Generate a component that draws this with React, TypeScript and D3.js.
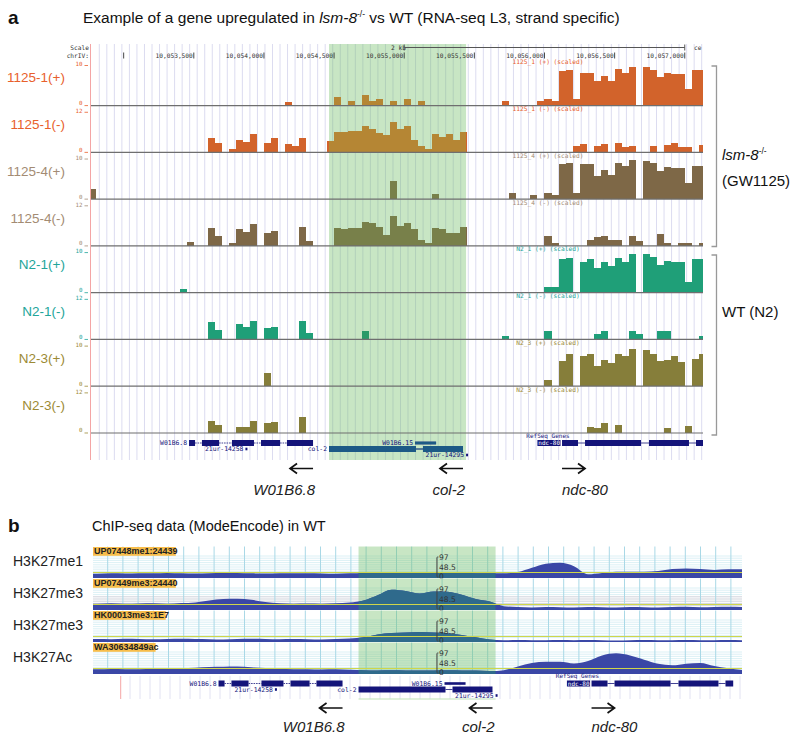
import React from "react";
import * as d3 from "d3";

// ---- panel a: RNA-seq coverage (50 bp bins) ----
const binStart = 10052750;
const binSize = 50;
const viewA: [number, number] = [10052760, 10057130];
const highlight: [number, number] = [10054464, 10055441];

const trackNames = ["1125-1(+)", "1125-1(-)", "1125-4(+)", "1125-4(-)", "N2-1(+)", "N2-1(-)", "N2-3(+)", "N2-3(-)"];
const trackTitles = [
  "1125_1 (+) (scaled)", "1125_1 (-) (scaled)", "1125_4 (+) (scaled)", "1125_4 (-) (scaled)",
  "N2_1 (+) (scaled)", "N2_1 (-) (scaled)", "N2_3 (+) (scaled)", "N2_3 (-) (scaled)",
];
const trackMax = [10, 12, 10, 12, 10, 12, 10, 12];
const barColors = ["#d2632b", "#d2632b", "#7e6847", "#7e6847", "#1f9f78", "#1f9f78", "#867e3a", "#867e3a"];
// same bars seen through the green highlight
const barColorsLit = ["#b58634", "#b58634", "#78804a", "#78804a", "#2a9a68", "#2a9a68", "#7f8a3c", "#7f8a3c"];
const nameColors = ["#e8602c", "#e8602c", "#a38b73", "#a38b73", "#22a59a", "#22a59a", "#9c8a34", "#9c8a34"];

// values per bin, bin i starts at binStart + i*binSize
const cov1125_1p = [
  0, 0, 0, 0, 0, 0, 0, 0, 0, 0,
  0, 0, 0, 0, 0, 0, 0, 0, 0, 0,
  0, 0, 0, 0, 0, 0, 0, 0, 0.8, 0,
  0, 0, 0, 0, 0, 2.0, 0, 0.9, 0, 2.3,
  0.9, 1.4, 0, 0.9, 0, 1.4, 0, 0.9, 0, 0,
  0, 0, 0, 0, 0, 0, 0, 0, 0, 0.9,
  0, 0, 0, 0, 0.9, 1.4, 0.9, 7.9, 8.1, 1.4,
  7.6, 7.6, 5.6, 6.9, 5.6, 8.5, 7.4, 9.0, 0, 9.0,
  8.3, 6.6, 7.4, 7.2, 7.2, 3.8, 8.2, 8.2,
];
const cov1125_1m = [
  0, 0, 0, 0, 0, 0, 0, 0, 0, 0,
  0, 0, 0, 0, 0, 0, 0, 3.8, 2.5, 0,
  0.8, 3.4, 2.7, 5.0, 0, 2.5, 3.8, 0, 2.3, 1.7,
  3.8, 0, 0, 0, 3.2, 5.5, 5.5, 5.9, 5.9, 7.4,
  6.5, 5.2, 4.7, 8.4, 6.3, 7.2, 3.5, 1.7, 0.8, 5.0,
  4.3, 5.0, 3.5, 5.6, 0, 0, 0, 0, 0, 0,
  0, 0, 0, 0, 0, 0, 0, 0, 0, 1.7,
  2.3, 0, 1.7, 2.3, 0, 2.6, 1.4, 1.7, 0, 0,
  1.7, 0, 2.0, 2.5, 1.4, 1.4, 0, 2.0,
];
const cov1125_4p = [
  2.4, 0, 0, 0, 0, 0, 0, 0, 0, 0,
  0, 0, 0, 0, 0, 0, 0, 0, 0, 0,
  0, 0, 0, 0, 0, 0, 0, 0, 0, 0,
  0, 0, 0, 0, 0, 0, 0, 0, 0, 0,
  0, 0, 0, 4.2, 0, 0, 0, 0, 0, 1.1,
  0, 0, 0, 0, 0, 0, 0, 0, 0, 0,
  1.4, 0, 0, 0.9, 0, 1.4, 0.9, 8.0, 8.3, 1.4,
  8.0, 8.0, 5.3, 6.7, 5.6, 8.3, 7.7, 9.0, 0, 8.9,
  8.3, 6.4, 7.3, 7.1, 7.1, 3.6, 7.7, 7.7,
];
const cov1125_4m = [
  0, 0, 0, 0, 0, 0, 0, 0, 0, 0,
  0, 0, 0, 0, 0.9, 0, 0, 5.0, 2.6, 0,
  0.8, 4.7, 3.9, 5.9, 0, 3.5, 4.1, 0, 0, 0,
  5.2, 1.4, 0, 0, 0, 4.9, 4.7, 5.0, 5.0, 6.7,
  6.3, 5.2, 2.9, 8.4, 5.5, 6.3, 4.7, 1.7, 0.8, 5.0,
  4.5, 3.5, 3.5, 5.2, 0, 0, 0, 0, 0, 0,
  0, 0, 0, 0, 0, 2.6, 0.8, 0, 0, 0,
  0, 1.5, 2.3, 2.6, 1.7, 1.7, 0, 2.6, 1.3, 0,
  0, 3.2, 0.8, 0, 0.8, 0.8, 0, 0.8,
];
const covN2_1p = [
  0, 0, 0, 0, 0, 0, 0, 0, 0, 0,
  0, 0, 0, 0.9, 0, 0, 0, 0, 0, 0,
  0, 0, 0, 0, 0, 0, 0, 0, 0, 0,
  0, 0, 0, 0, 0, 0, 0, 0, 0, 0,
  0, 0, 0, 0, 0, 0, 0, 0, 0, 0,
  0, 0, 0, 0, 0, 0, 0, 0, 0, 0,
  0, 0, 0, 0, 0, 1.3, 1.3, 7.8, 8.1, 0,
  7.1, 7.7, 5.6, 7.0, 6.2, 8.1, 7.1, 8.9, 0, 8.9,
  8.3, 6.4, 7.4, 7.0, 7.0, 2.3, 7.7, 7.7,
];
const covN2_1m = [
  0, 0, 0, 0, 0, 0, 0, 0, 0, 0,
  0, 0, 0, 0, 0, 0, 0, 4.9, 2.6, 0,
  0, 4.1, 3.5, 5.1, 0, 3.0, 3.5, 0, 0, 0,
  5.1, 1.8, 0, 0, 0, 0, 0, 0, 0, 2.3,
  0, 0, 0, 0, 0, 0, 0, 0, 0, 0,
  0, 0, 0, 0, 0, 0, 0, 0, 0, 0.9,
  0, 0, 0, 0, 0, 2.3, 0, 0, 0, 0,
  0, 0, 1.5, 2.3, 0, 0, 0, 2.3, 1.5, 0,
  0, 2.3, 2.3, 0, 0, 0, 0, 0.9,
];
const covN2_3p = [
  0, 0, 0, 0, 0, 0, 0, 0, 0, 0,
  0, 0, 0, 0, 0, 0, 0, 0, 0, 0,
  0, 0, 0, 0, 0, 3.1, 0, 0, 0, 0,
  0, 0, 0, 0, 0, 0, 0, 0, 0, 0,
  0, 0, 0, 0, 0, 0, 0, 0, 0, 0,
  0, 0, 0, 0, 0, 0, 0, 0, 0, 0,
  0, 0, 0, 0, 0, 1.3, 0, 5.9, 7.5, 0,
  6.9, 7.4, 4.7, 6.1, 5.3, 7.5, 7.0, 8.6, 0, 8.3,
  7.4, 5.9, 6.1, 6.9, 5.5, 0, 6.3, 7.4,
];
const covN2_3m = [
  0, 0, 0, 0, 0, 0, 0, 0, 0, 0,
  0, 0, 0, 0, 0, 0, 0, 3.3, 2.1, 0,
  0, 1.7, 1.7, 3.3, 0, 2.8, 3.1, 0, 0, 0,
  4.3, 0, 0, 0, 0, 0, 0, 0, 0, 0,
  0, 0, 0, 0, 0, 0, 0, 0, 0, 0,
  0, 0, 0, 0, 0, 0, 0, 0, 0, 0,
  0, 0, 0, 0, 0, 0, 0, 0, 0, 0,
  0, 1.7, 1.4, 2.6, 0, 2.1, 0, 0, 0, 0,
  0, 0, 1.4, 0, 0, 2.0, 0, 0,
];
const coverage = [cov1125_1p, cov1125_1m, cov1125_4p, cov1125_4m, covN2_1p, covN2_1m, covN2_3p, covN2_3m];

const positionTicks = [10053000, 10053500, 10054000, 10054500, 10055000, 10055500, 10056000, 10056500, 10057000];
const positionLabels = ["", "10,053,500", "10,054,000", "10,054,500", "10,055,000", "10,055,500", "10,056,000", "10,056,500", "10,057,000"];

// ---- RefSeq genes ----
const geneNames = ["W01B6.8", "21ur-14258", "col-2", "W01B6.15", "21ur-14295", "ndc-80"];
const geneRows = [0, 1, 1, 0, 2, 0];
const geneThin = [false, true, false, true, true, false];
const geneExons: [number, number][][] = [
  [[10053466, 10053509], [10053558, 10053680], [10053772, 10053929], [10053979, 10054115], [10054164, 10054350]],
  [[10053868, 10053882]],
  [[10054464, 10055084], [10055134, 10055419]],
  [[10055077, 10055227]],
  [[10055441, 10055455]],
  [[10056125, 10056239], [10056289, 10056688], [10056745, 10057030], [10057080, 10057135]],
];
const namedGenes = ["W01B6.8", "col-2", "ndc-80"];
const namedStrand = [-1, -1, 1];

// ---- panel b: ChIP-seq ----
const chipNames = ["H3K27me1", "H3K27me3", "H3K27me3", "H3K27Ac"];
const chipIds = ["UP07448me1:24439", "UP07449me3:24440", "HK00013me3:1E7", "WA30634849ac"];
const chipStep = 100;
const chipFirst = 10052600;
const chipMe1 = [
  20, 22, 21, 23, 22, 24, 22, 21, 23, 25, 24, 22, 21, 22, 23, 22, 21, 20, 22,
  24, 26, 28, 27, 25, 24, 26, 25, 23, 22,
  22, 28, 48, 68, 72, 56, 18, 24, 30, 30, 29, 33, 42, 45, 42, 38, 41, 41,
];
const chipMe3a = [
  30, 32, 30, 31, 32, 30, 33, 36, 45, 52, 53, 48, 38, 32, 30, 31, 30, 32, 35,
  45, 70, 96, 90, 78, 88, 86, 72, 52, 40,
  18, 14, 12, 14, 13, 12, 14, 13, 12, 14, 13, 12, 14, 15, 13, 14, 15, 14,
];
const chipMe3b = [
  14, 13, 15, 14, 13, 14, 15, 14, 13, 12, 14, 15, 14, 13, 14, 13, 12, 14, 16,
  22, 36, 42, 45, 47, 45, 41, 33, 22, 12,
  8, 9, 8, 8, 9, 8, 9, 8, 7, 8, 9, 8, 8, 9, 8, 8, 9, 8,
];
const chipAc = [
  22, 24, 23, 22, 25, 24, 27, 30, 33, 34, 35, 32, 28, 25, 23, 22, 21, 22, 20,
  18, 17, 18, 17, 16, 17, 18, 17, 16, 14,
  18, 36, 52, 58, 58, 50, 62, 88, 98, 88, 68, 48, 41, 49, 52, 38, 27, 19,
];
const chipValues = [chipMe1, chipMe3a, chipMe3b, chipAc];
const chipMax = 97;

const SANS = "'Liberation Sans', Arial, sans-serif";
const MONO = "'DejaVu Sans Mono', monospace";
const NAVY = "#14147a";
const NAVY_LIT = "#1d5a86";
const HL_FILL = "rgb(110,190,100)";
const HL_OPACITY = 0.38;

function Genes({ x, y0, right, color, clip }: {
  x: d3.ScaleLinear<number, number>; y0: number; right: number; color: string; clip?: string;
}) {
  const rowY = [y0 + 6, y0 + 12, y0 + 18];
  return (
    <g clipPath={clip}>
      {!clip && (
        <text x={548 + (x(viewA[0]) - 90)} y={y0 + 0.6} fontFamily={MONO} fontSize={6} fill={color} textAnchor="middle">RefSeq Genes</text>
      )}
      {geneNames.map((name, gi) => {
        const ex = geneExons[gi];
        const cy = rowY[geneRows[gi]];
        const h = geneThin[gi] ? 2.6 : 6;
        const gx0 = x(ex[0][0]);
        const isNdc = name === "ndc-80";
        const lw = name.length * 3.85;
        return (
          <g key={name}>
            {ex.slice(1).map((e, j) => (
              <line key={j} x1={x(ex[j][1])} x2={Math.min(x(e[0]), right)} y1={cy} y2={cy}
                stroke={color} strokeWidth={0.8} strokeDasharray={name === "W01B6.8" ? "1.6,0.9" : undefined} />
            ))}
            {ex.map((e, j) => (
              <rect key={"e" + j} x={x(e[0])} y={cy - h / 2} width={Math.max(2, Math.min(x(e[1]), right) - x(e[0]))} height={h} fill={color} />
            ))}
            {!clip && isNdc && <rect x={gx0 - 1.5 - lw} y={cy - 3} width={lw} height={6} fill={color} />}
            {!clip && (
              <text x={gx0 - 2} y={cy + 2.3} fontFamily={MONO} fontSize={isNdc ? 6 : 6.4} fill={isNdc ? "#ffffff" : color} textAnchor="end">{name}</text>
            )}
          </g>
        );
      })}
    </g>
  );
}

function GeneArrows({ x, y, ty }: { x: d3.ScaleLinear<number, number>; y: number; ty: number }) {
  return (
    <g>
      {namedGenes.map((name, i) => {
        const ex = geneExons[geneNames.indexOf(name)];
        const strand = namedStrand[i];
        const end = strand < 0 ? x(ex[ex.length - 1][1]) : x(ex[0][0]);
        const a0 = strand < 0 ? end - 23 : end;
        const a1 = strand < 0 ? end : end + 23;
        const tip = strand < 0 ? a0 : a1;
        const d = `M${a0},${y}L${a1},${y}M${tip - strand * 7},${y - 5}L${tip},${y}L${tip - strand * 7},${y + 5}`;
        return (
          <g key={name}>
            <path d={d} stroke="#111" strokeWidth={1.7} fill="none" />
            <text x={strand < 0 ? end + 2 : end} y={ty} fontFamily={SANS} fontSize={15} fontStyle="italic" fill="#222"
              textAnchor={strand < 0 ? "end" : "start"}>{name}</text>
          </g>
        );
      })}
    </g>
  );
}

export default function App() {
  const xA = d3.scaleLinear().domain(viewA).range([90, 703]);
  const xB = d3.scaleLinear().domain(viewA).range([119.5, 732.5]);
  const trackTop0 = 62.3;
  const trackPitch = 46.77;
  const dataH = 43;
  const hx0 = xA(highlight[0]);
  const hx1 = xA(highlight[1]);
  const guides = d3.range(99.3, 703, 7.53);

  // panel b geometry
  const bLeft = 93;
  const bRight = 742;
  const chipZero0 = 578;
  const chipPitch = 32;
  const chipH = 20.5;
  const bGuides = d3.range(107.7, bRight, 15.2);
  const bx0 = xB(highlight[0]);
  const bx1 = xB(highlight[1]);

  return (
    <svg width={800} height={741} style={{ position: "absolute", left: 0, top: 0, background: "#fff" }}>
      <defs>
        <clipPath id="clipB"><rect x={bLeft} y={540} width={bRight - bLeft} height={140} /></clipPath>
        <clipPath id="hlA"><rect x={hx0} y={40} width={hx1 - hx0} height={425} /></clipPath>
        <clipPath id="hlB"><rect x={bx0} y={540} width={bx1 - bx0} height={140} /></clipPath>
      </defs>
      {/* ---------------- panel a ---------------- */}
      <text x={8} y={24} fontFamily={SANS} fontWeight="bold" fontSize={19} fill="#111">a</text>
      <text x={83} y={23} fontFamily={SANS} fontSize={15.5} fill="#111">
        Example of a gene upregulated in <tspan fontStyle="italic">lsm-8</tspan>
        <tspan fontSize={8.5} dy={-6}>-/-</tspan>
        <tspan dy={6}> vs WT (RNA-seq L3, strand specific)</tspan>
      </text>

      {guides.map((g, i) => (
        <line key={i} x1={g} x2={g} y1={44} y2={460} stroke="#dcdcf0" strokeWidth={1} />
      ))}
      <line x1={90.5} x2={90.5} y1={44} y2={460} stroke="#f4a5a5" strokeWidth={1} />
      {/* highlight */}
      <rect x={hx0} y={44} width={hx1 - hx0} height={416} fill={HL_FILL} opacity={HL_OPACITY} />

      {/* scale & position rows */}
      <text x={89} y={49.5} fontFamily={MONO} fontSize={6.2} fill="#333" textAnchor="end">Scale</text>
      <text x={89} y={58} fontFamily={MONO} fontSize={6.2} fill="#333" textAnchor="end">chrIV:</text>
      <text x={406} y={49.5} fontFamily={MONO} fontSize={6.2} fill="#333" textAnchor="end">2 kb</text>
      <line x1={xA(10055000)} x2={xA(10057000)} y1={47.5} y2={47.5} stroke="#555" strokeWidth={1} />
      <line x1={xA(10055000)} x2={xA(10055000)} y1={44.5} y2={50.5} stroke="#555" strokeWidth={1} />
      <line x1={xA(10057000)} x2={xA(10057000)} y1={44.5} y2={50.5} stroke="#555" strokeWidth={1} />
      <text x={694} y={49.5} fontFamily={MONO} fontSize={6.2} fill="#333">ce</text>
      {positionTicks.map((t, i) => (
        <g key={t}>
          <line x1={xA(t)} x2={xA(t)} y1={52.5} y2={58.5} stroke="#333" strokeWidth={0.9} />
          <text x={xA(t) - 1} y={58} fontFamily={MONO} fontSize={6.2} fill="#333" textAnchor="end">{positionLabels[i]}</text>
        </g>
      ))}

      {/* coverage tracks */}
      {coverage.map((vals, ti) => {
        const top = trackTop0 + ti * trackPitch;
        const base = top + dataH;
        const y = d3.scaleLinear().domain([0, trackMax[ti]]).range([base, base - dataH]);
        const bars = (fill: string) =>
          vals.map((v, i) => {
            if (v <= 0) return null;
            const x0 = Math.max(xA(binStart + i * binSize), 91);
            const x1 = Math.min(xA(binStart + (i + 1) * binSize), 703);
            return <rect key={i} x={x0} y={y(v)} width={x1 - x0} height={base - y(v)} fill={fill} shapeRendering="crispEdges" />;
          });
        return (
          <g key={ti}>
            <text x={548} y={top + 2} fontFamily={MONO} fontSize={6.2} fill={nameColors[ti]} textAnchor="middle">{trackTitles[ti]}</text>
            <text x={82.5} y={top + 4} fontFamily={MONO} fontSize={5.8} fill={nameColors[ti]} textAnchor="end">{trackMax[ti]}</text>
            <line x1={84.5} x2={88} y1={top + 3.2} y2={top + 3.2} stroke={nameColors[ti]} strokeWidth={0.8} />
            <text x={82.5} y={base - 0.3} fontFamily={MONO} fontSize={5.8} fill={nameColors[ti]} textAnchor="end">0</text>
            <line x1={84.5} x2={88} y1={base + 0.3} y2={base + 0.3} stroke={nameColors[ti]} strokeWidth={0.8} />
            <g>{bars(barColors[ti])}</g>
            <g clipPath="url(#hlA)">{bars(barColorsLit[ti])}</g>
            <line x1={91} x2={703} y1={base + 0.3} y2={base + 0.3} stroke="#6f6f6f" strokeWidth={1.2} />
            <text x={65} y={top + 20} fontFamily={SANS} fontSize={13.5} fill={nameColors[ti]} textAnchor="end">{trackNames[ti]}</text>
          </g>
        );
      })}

      <Genes x={xA} y0={437} right={703} color={NAVY} />
      <Genes x={xA} y0={437} right={703} color={NAVY_LIT} clip="url(#hlA)" />

      <GeneArrows x={xA} y={468.5} ty={495} />

      {/* brackets */}
      <path d="M711.5,66H716.5V246.5H711.5" fill="none" stroke="#999" strokeWidth={1.3} />
      <path d="M711.5,255H716.5V435H711.5" fill="none" stroke="#999" strokeWidth={1.3} />
      <text x={722} y={160} fontFamily={SANS} fontSize={15} fill="#111">
        <tspan fontStyle="italic">lsm-8</tspan><tspan fontSize={8.5} dy={-6}>-/-</tspan>
      </text>
      <text x={722} y={186} fontFamily={SANS} fontSize={15} fill="#111">(GW1125)</text>
      <text x={722} y={317} fontFamily={SANS} fontSize={15} fill="#111">WT (N2)</text>

      {/* ---------------- panel b ---------------- */}
      <text x={8} y={532} fontFamily={SANS} fontWeight="bold" fontSize={19} fill="#111">b</text>
      <text x={92} y={531} fontFamily={SANS} fontSize={14.5} fill="#111">ChIP-seq data (ModeEncode) in WT</text>

      {chipValues.map((vals, ci) => {
        const zero = chipZero0 + ci * chipPitch;
        const top = zero - 31.5;
        const y = d3.scaleLinear().domain([0, chipMax]).range([zero, zero - chipH]);
        const pts: [number, number][] = vals.map((v, k) => [xB(chipFirst + k * chipStep), v]);
        pts.unshift([bLeft, vals[0]]);
        const area = d3.area<[number, number]>()
          .x((d) => d[0])
          .y0(zero)
          .y1((d) => y(d[1]))
          .curve(d3.curveMonotoneX);
        const hLines = d3.range(top + 9.5, zero - 4, 2.2);
        const d = area(pts) || "";
        return (
          <g key={ci}>
            <rect x={bLeft} y={top} width={bRight - bLeft} height={zero - top} fill="#ffffff" />
            {hLines.map((hy, i) => (
              <line key={i} x1={bLeft} x2={bRight} y1={hy} y2={hy} stroke={ci === 1 && hy > zero - 15 ? "#c4c8d2" : "#d2ecf3"} strokeWidth={0.8} />
            ))}
            {bGuides.map((g, i) => (
              <line key={"v" + i} x1={g} x2={g} y1={top} y2={zero} stroke="#a9d8e6" strokeWidth={1} />
            ))}
            <rect x={bx0} y={top} width={bx1 - bx0} height={zero - top} fill={HL_FILL} opacity={HL_OPACITY} />
            <path d={d} fill="#3a47a6" clipPath="url(#clipB)" />
            <path d={d} fill="#2f6a8c" clipPath="url(#hlB)" />
            <line x1={bLeft} x2={bRight} y1={zero - 5.5} y2={zero - 5.5} stroke="#cfd64a" strokeWidth={1} />
            <rect x={bLeft} y={top + 0.5} width={chipIds[ci].length * 5.05 + 2} height={8.8} fill="#f7bd4b" />
            <text x={bLeft + 1} y={top + 7.8} fontFamily={SANS} fontWeight="bold" fontSize={9} fill="#222">{chipIds[ci]}</text>
            <text x={13} y={zero - 12.5} fontFamily={SANS} fontSize={14} fill="#222">{chipNames[ci]}</text>
            {/* y ruler */}
            <path d={`M438.5,${zero - 21}H437V${zero - 1}H438.5`} fill="none" stroke="#444" strokeWidth={0.8} />
            {d3.range(zero - 19, zero - 1, 2).map((ty) => (
              <line key={ty} x1={436} x2={437.5} y1={ty} y2={ty} stroke="#444" strokeWidth={0.6} />
            ))}
            <text x={439} y={zero - 18} fontFamily="'DejaVu Sans', sans-serif" fontSize={7.6} fill="#333">97</text>
            <text x={439} y={zero - 8.5} fontFamily="'DejaVu Sans', sans-serif" fontSize={7.6} fill="#333">48.5</text>
            <text x={439} y={zero + 0.8} fontFamily="'DejaVu Sans', sans-serif" fontSize={7.6} fill="#333">0</text>
          </g>
        );
      })}

      {/* gene area b */}
      {d3.range(130, bRight, 10).map((g, i) => (
        <line key={i} x1={g} x2={g} y1={676} y2={699} stroke="#e2e2f2" strokeWidth={1} />
      ))}
      <line x1={120.7} x2={120.7} y1={676} y2={699} stroke="#f4a5a5" strokeWidth={1} />
      <Genes x={xB} y0={677.5} right={bRight} color={NAVY} />
      <line x1={bx0} x2={bx1} y1={699} y2={699} stroke="#bfe3b8" strokeWidth={1.2} />

      <GeneArrows x={xB} y={708} ty={732} />
    </svg>
  );
}
